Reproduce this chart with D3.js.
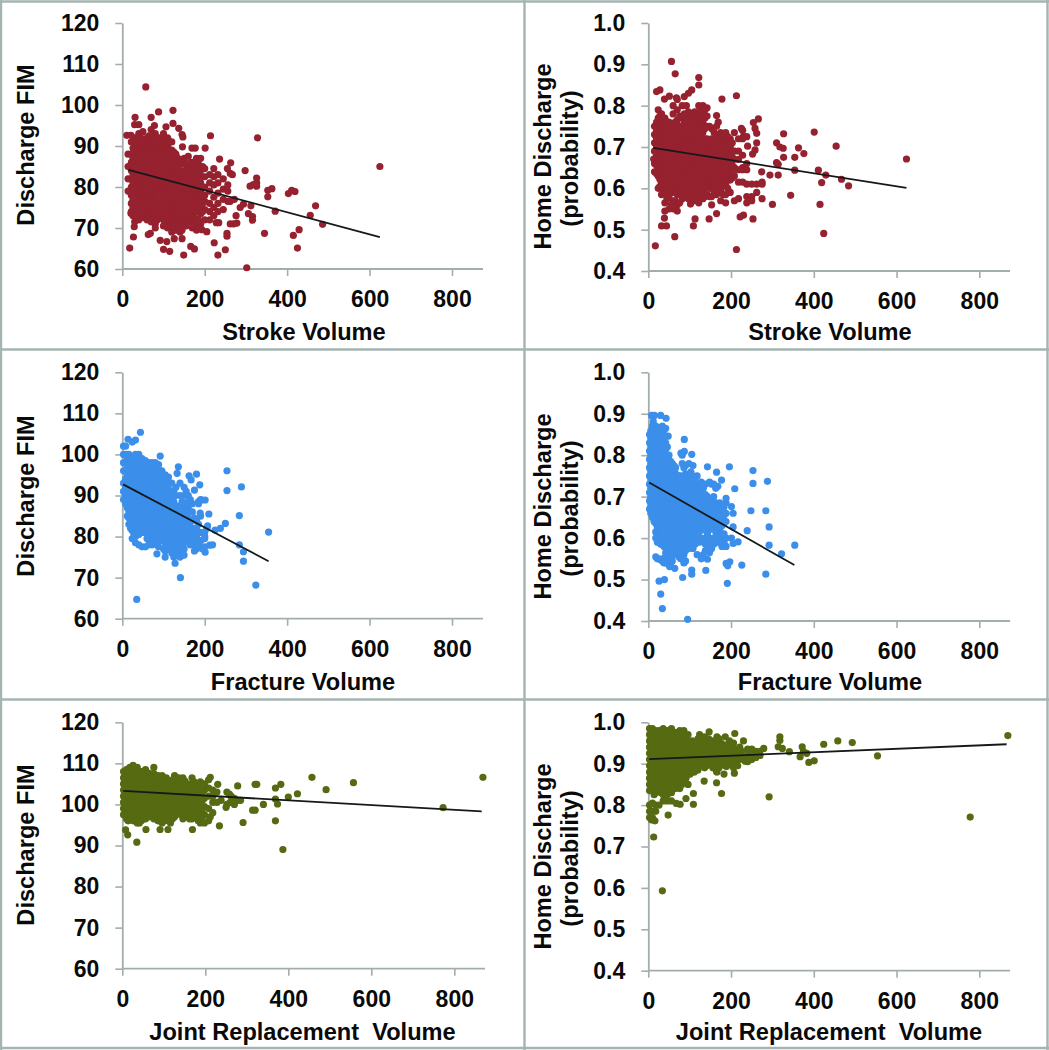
<!DOCTYPE html>
<html><head><meta charset="utf-8">
<script src="https://d3js.org/d3.v7.min.js"></script>
<style>html,body{margin:0;padding:0;background:#fff}svg{display:block}text{font-family:"Liberation Sans",Arial,sans-serif;font-weight:700;fill:#0a0a0a}</style>
</head><body><div id="c"></div>
<script>
// Readings: isolated dots are [x,y]; dense regions are [x,[y,y,...]] columns estimated by eye.
const xTicks=[0,200,400,600,800];
const fimTicks=[60,70,80,90,100,110,120];
const probTicks=[0.4,0.5,0.6,0.7,0.8,0.9,1.0];

const strokeFimDots=[[57,104.4],[31,97],[70,97],[88,98.3],[123,98.7],[123,95.5],[30,95.2],[40,95.2],[78,95],[106,94.7],[137,94.3],[145,92.8],[147,92.2],[11,92.6],[21,92.6],[214,92.5],[328,92],[201,89.5],[169,89.5],[177,89.5],[146,89.8],[236,86.8],[263,85.9],[255,84.5],[262,83.3],[267,83],[298,84],[326,82.2],[326,81],[310,80.2],[326,80.2],[318,80.6],[625,85],[363,79.6],[353,79.2],[353,77.6],[411,79.2],[419,78.9],[403,78.4],[469,75.4],[456,73.1],[486,70.9],[371,74.1],[429,69.6],[415,68.2],[345,68.7],[425,65.1],[302,60.3],[316,72.8],[316,71.9],[306,73.5],[312,75.4],[286,75],[294,75.8],[276,73],[278,71.2],[270,71],[262,71],[254,68.7],[254,68],[250,64.7],[232,63.4],[223,66.4],[228,71.3],[234,71.3],[205,69.1],[193,69.6],[175,64.9],[166,65.5],[149,63.4],[115,64.3],[100,64.8],[92,67],[108,66.7],[126,67.4],[145,67.4],[63,68.4],[68,68.7],[18,65.1],[27,67.8],[29,70.3],[21,73.6],[272,77],[262,76.5]];
const strokeFimCols=[[14,[85,88,82,79]],[22,[91,88,86,84,82,80,78,76,74]],[30,[92,90,88,86.5,85,83,81.5,80,78.5,77,75,73,71.5]],[40,[93,91,89,87.5,86,84,82.5,81,79,77.5,76,74.5,73,72]],[50,[93.5,91.5,90,88,86.5,85,83.5,82,80,78.5,77,75.5,74,72.5]],[60,[92,90.5,89,87,85.5,84,82,80.5,79,77.5,75,73.5,72]],[70,[94,91,89,88,86,84.5,83,81.5,80,78,76,74.5,73,71.5]],[80,[93,90,88.5,87,85,83.5,82,80.5,79,77,75,73,71,70]],[90,[92,90,88.5,87,85.5,84,82.5,81,79.5,78,76,74,72.5]],[100,[93,90.5,89,87,85.5,84,82,80.5,79,77.5,75.5,74,72,70.5]],[110,[92,90,88,86.5,85,83.5,82,80.5,79,77,75,73,71.5,70]],[120,[91,89,87.5,86,84.5,83,81.5,80,78.5,76.5,75,73.5,72,70,69]],[130,[88,86,84.5,83,81.5,80,78.5,77,75.5,74,72.5,71,69.5]],[140,[85.5,84,82.5,81,79.5,78,76.5,75,73.5,72,70.5,69]],[150,[87,84,82,80.5,79,77.5,76,74,72.5,71]],[160,[87.5,85,83,81,79.5,78,76,74.5,73,71.5]],[170,[86,84,82,80,78.5,77,75,73,71.5,70]],[180,[87,84.5,82,80.5,79,77.5,75.5,74,72,69.5]],[190,[87,84,81,79,77,75,73.5,71]],[200,[84.5,82.5,80,78,76.5,74.5,72]],[212,[83,81,79,76,74,72]],[222,[84.5,82.5,80.5,77.5,75,73]],[232,[83,81,78.5,76,74]],[245,[82,79.5,77,74.5]],[256,[80.5,79,76.5]],
[26,[89.5,87,85,83,81,79,77,75,73]],[35,[91,89,87,85.5,83.5,82,80,78,76,74.5,73]],[45,[92,90,88,86.5,85,83,81.5,80,78,76.5,75,73]],[55,[91,89,87.5,86,84,82.5,81,79,78,76,74.5,73]],[65,[92.5,90,88,86.5,85,83,81.5,80,78.5,76.5,75,73]],[75,[92,90,88.5,87,85.5,83.5,82,80.5,79,77,75,73,72]],[85,[91,89.5,87.5,86,84.5,83,81,79.5,78,76,74,72]],[95,[91.5,89.5,88,86.5,84.5,83,81.5,80,78.5,76.5,75,73]],[105,[91.5,89.5,88,86,84.5,83,81,79.5,78,76,74.5,73,71]],[115,[91,89,87,85.5,84,82.5,81,79.5,78,76,74,72,70.5]],[125,[88.5,86.5,85,83.5,82,80.5,79,77.5,75.5,74,72,70.5]],[135,[87,85,83.5,82,80.5,79,77.5,76,74.5,73,71,70]],[145,[86,83,81.5,80,78.5,77,75.5,74,72.5,71,69.5]],[155,[85.5,83,81.5,80,78,76.5,75,73.5,72,70.5]],[165,[86,84,82,80.5,79,77,75.5,73.5,72]],[175,[85,83,81.5,79.5,78,76,74.5,72.5,70.5]],[185,[85.5,83,80,78,76,74,72,70]],[195,[85,82.5,80,78,76,74]]];
const strokeFimLine=[[15,84.2],[625,67.8]];

const strokeProbDots=[[56,.907],[65,.877],[122,.868],[122,.85],[105,.838],[97,.83],[87,.822],[28,.838],[20,.834],[51,.823],[39,.816],[68,.819],[178,.816],[213,.824],[266,.768],[254,.759],[258,.745],[262,.733],[327,.732],[401,.736],[454,.702],[624,.671],[363,.698],[376,.684],[354,.675],[327,.675],[310,.71],[318,.70],[326,.697],[310,.662],[314,.658],[354,.644],[411,.644],[429,.632],[467,.622],[419,.614],[484,.606],[344,.583],[415,.561],[424,.491],[314,.632],[294,.632],[274,.64],[300,.561],[275,.575],[253,.526],[230,.535],[222,.531],[213,.452],[165,.539],[147,.526],[113,.526],[109,.509],[64,.483],[17,.461],[32,.509],[44,.509],[39,.528],[13,.671],[165,.776],[169,.76],[225,.745],[230,.725],[238,.725],[262,.71],[258,.693],[252,.683],[240,.702]];
const strokeProbCols=[[15,[.75,.73,.71,.69,.66,.64]],[24,[.79,.77,.75,.735,.72,.705,.69,.675,.66,.645,.63,.60]],[32,[.78,.765,.75,.735,.72,.705,.69,.675,.66,.645,.63,.615,.60,.585]],[40,[.77,.755,.74,.725,.71,.695,.68,.665,.65,.635,.62,.605,.59,.565,.545]],[50,[.76,.745,.73,.715,.70,.685,.67,.655,.64,.625,.61,.595,.58,.55]],[60,[.80,.78,.75,.735,.72,.705,.69,.675,.66,.645,.63,.615,.60,.57,.55]],[70,[.815,.79,.765,.74,.725,.71,.695,.68,.665,.65,.635,.62,.60,.585,.56,.545]],[82,[.80,.77,.75,.735,.72,.705,.69,.675,.66,.645,.63,.615,.60,.575]],[92,[.80,.775,.755,.74,.725,.71,.695,.68,.665,.65,.635,.62,.60,.58]],[102,[.78,.76,.74,.725,.71,.695,.68,.665,.65,.635,.62,.605,.585,.562]],[112,[.785,.765,.745,.73,.715,.70,.685,.67,.655,.64,.625,.61,.59,.57]],[122,[.80,.78,.76,.74,.72,.705,.69,.675,.66,.645,.63,.615,.60,.58,.565]],[132,[.80,.785,.76,.735,.715,.70,.685,.67,.655,.64,.625,.61,.595,.575]],[142,[.795,.775,.75,.72,.70,.685,.67,.655,.64,.625,.605,.585]],[153,[.745,.72,.705,.69,.675,.66,.645,.63,.615,.60,.58,.56]],[165,[.75,.73,.715,.70,.68,.665,.65,.635,.62,.60,.585]],[175,[.735,.715,.695,.68,.665,.65,.635,.615,.595,.57]],[187,[.735,.71,.69,.675,.66,.645,.63,.61,.585,.565]],[198,[.72,.70,.68,.665,.65,.635,.62,.59]],[208,[.735,.69,.67,.65,.63,.57]],[218,[.72,.69,.67,.645,.615,.575]],[228,[.74,.72,.68,.65,.645,.615]],[238,[.66,.645,.61,.565,.58]],[250,[.61,.58,.57]],[262,[.61,.59]],[275,[.615,.61]],
[20,[.76,.74,.72,.70,.68,.655,.635]],[28,[.775,.757,.742,.727,.712,.697,.682,.667,.652,.637,.622,.605]],[36,[.77,.757,.742,.727,.712,.697,.682,.667,.652,.637,.622,.605,.59]],[45,[.76,.747,.732,.717,.702,.687,.672,.657,.642,.627,.612,.60,.575]],[55,[.755,.742,.727,.712,.697,.682,.667,.652,.637,.622,.607,.59,.56]],[65,[.76,.742,.727,.712,.697,.682,.667,.652,.637,.622,.607,.59,.57]],[76,[.775,.75,.732,.717,.702,.687,.672,.657,.642,.627,.61,.59,.565]],[87,[.78,.757,.742,.727,.712,.697,.682,.667,.652,.637,.622,.605,.585]],[97,[.785,.765,.747,.732,.717,.702,.687,.672,.657,.642,.627,.61,.59,.575]],[107,[.77,.75,.732,.717,.702,.687,.672,.657,.642,.627,.612,.595,.575]],[117,[.775,.755,.737,.722,.707,.692,.677,.662,.647,.632,.617,.60,.58]],[127,[.79,.77,.75,.73,.712,.697,.682,.667,.652,.637,.622,.605,.585]],[137,[.79,.77,.745,.72,.707,.692,.677,.662,.647,.632,.617,.60,.58]],[148,[.75,.71,.695,.68,.665,.65,.635,.62,.60,.58]],[159,[.735,.71,.695,.68,.665,.65,.635,.62,.605,.59]],[170,[.72,.705,.69,.672,.657,.642,.627,.61,.59]],[181,[.725,.705,.685,.67,.655,.64,.625,.605,.585]],[192,[.725,.70,.685,.665,.65,.635,.62,.60]],[203,[.71,.69,.675,.655,.64,.625]]];
const strokeProbLine=[[12,.698],[624,.601]];

const fractureFimDots=[[44,105.4],[92,99.6],[32,103.5],[24,103],[14,103.7],[136,97],[133,95.4],[180,95.2],[162,94.8],[167,93.8],[188,92.6],[175,91.3],[254,96],[254,91.2],[289,92.1],[284,85.1],[210,85.5],[250,83.2],[238,82],[225,81.6],[355,81.1],[284,78],[294,76.3],[294,74],[324,68.2],[219,78],[201,76.2],[141,70],[35,64.7],[128,73.5],[84,75.8],[145,75.5],[205,82],[207,82.6],[193,88.9],[201,88.9],[185,88.5],[189,85.7],[200,80],[212,77.9],[195,77]];
const fractureFimCols=[[3,[102,100,98,96,93,91,89]],[8,[102,100,98,96,94,92,90,88]],[16,[100,98,96.5,95,93.5,92,90.5,89,87.5,86,84.5,83]],[24,[99.5,98,96.5,95,93.5,92,90.5,89,87.5,86,84.5,83,81.5,79.5]],[32,[100,98.5,97,95.5,94,92.5,91,89.5,88,86.5,85,83.5,82,80,78.5]],[40,[100,98.5,97,95.5,94,92.5,91,89.5,88,86.5,85,83.5,82,80.5,78]],[48,[99,97.5,96,94.5,93,91.5,90,88.5,87,85.5,84,82.5,81,77.5]],[56,[98.5,97,95.5,94,92.5,91,89.5,88,86.5,85,83.5,82,81,77.5]],[64,[98,96.5,95,93.5,92,90.5,89,87.5,86,84.5,83,81.5,79.5,78]],[72,[98,96,94.5,93,91.5,90,88.5,87,85.5,84,82.5,81,79.5,78]],[80,[98,96,94.5,93,91.5,90,88.5,87,85.5,84,82.5,81,79.5]],[88,[97.5,95.5,94,92.5,91,89.5,88,86.5,85,83.5,82,80.5,79,77.5]],[96,[96,94,92.5,91,89.5,88,86.5,85,83.5,82,80.5,79]],[104,[95,93.5,92,90.5,89,87.5,86,84.5,83,81.5,80,78.5,76.5,75]],[112,[94.5,93,91.5,90,88.5,87,85.5,84,82.5,81,78.5,77]],[120,[93,91,89.5,88,86.5,85,83.5,82,80,78,76]],[130,[92,90,87.5,86,84.5,83,81.5,80,78.5,77,75.5]],[140,[93,90,87.5,85.5,84,82.5,81,79.5,78,76.5,75]],[150,[92,90,87,85,83.5,82,80,78.5,77,75.5]],[160,[90,88.5,87,84.5,83,81.5,79.5]],[170,[88,86,84,82,80.5,79]],[180,[84,82,80,78.5,77]],[190,[89,85,81,79,77.5]],[200,[81,79.5,77.5]],
[12,[99,97,95,93,91,89,87,85]],[20,[99,97.2,95.7,94.2,92.7,91.2,89.7,88.2,86.7,85.2,83.7,82]],[28,[99,97.2,95.7,94.2,92.7,91.2,89.7,88.2,86.7,85.2,83.7,82.2,80.7]],[36,[99.2,97.7,96.2,94.7,93.2,91.7,90.2,88.7,87.2,85.7,84.2,82.7,81]],[44,[99,97.7,96.2,94.7,93.2,91.7,90.2,88.7,87.2,85.7,84.2,82.7,81.2]],[52,[98,96.7,95.2,93.7,92.2,90.7,89.2,87.7,86.2,84.7,83.2,81.7]],[60,[97.7,96.2,94.7,93.2,91.7,90.2,88.7,87.2,85.7,84.2,82.7,81.2,79.5]],[68,[97.2,95.7,94.2,92.7,91.2,89.7,88.2,86.7,85.2,83.7,82.2,80.7]],[76,[97,95.2,93.7,92.2,90.7,89.2,87.7,86.2,84.7,83.2,81.7,80.2,78.7]],[84,[96.5,94.7,93.2,91.7,90.2,88.7,87.2,85.7,84.2,82.7,81.2,79.7,78]],[92,[96,94.2,92.7,91.2,89.7,88.2,86.7,85.2,83.7,82.2,80.7,79.2]],[100,[94.5,92.7,91.2,89.7,88.2,86.7,85.2,83.7,82.2,80.7,79.2,77]],[108,[93.7,92.2,90.7,89.2,87.7,86.2,84.7,83.2,81.7,80,78]],[116,[93,91,89.2,87.7,86.2,84.7,83.2,81.7,79.5,77.5]],[125,[91,88.5,87,85.5,84,82.5,81,79,77,75]],[135,[87,85,83.5,82,80.5,79,77.5,76]],[145,[88.5,86,84,82.5,81,79,77,75.5]],[155,[91,88,86,84,82,80.5,79]],[165,[89,86,83.5,82,80.5,78]],[175,[84.5,82,80,78,76.5]],[185,[88,83,81,78]]];
const fractureFimLine=[[2,92.7],[355,74]];

const fractureProbDots=[[87,.838],[87,.809],[79,.805],[105,.802],[143,.772],[196,.772],[165,.759],[253,.763],[253,.732],[288,.737],[209,.719],[177,.74],[248,.666],[284,.666],[292,.627],[239,.618],[292,.583],[354,.583],[322,.562],[284,.513],[226,.535],[188,.539],[197,.543],[192,.533],[191,.491],[139,.522],[143,.549],[105,.523],[105,.513],[83,.505],[39,.5],[26,.496],[30,.465],[34,.43],[95,.404],[64,.527],[52,.531],[8,.896],[15,.896],[30,.896],[43,.889],[12,.881],[6,.859],[48,.846],[205,.627],[217,.591],[205,.587],[201,.6],[201,.676],[205,.66],[188,.696]];
const fractureProbCols=[[3,[.85,.83,.81,.79,.77,.75,.73,.71,.69,.67]],[10,[.87,.85,.83,.815,.80,.785,.77,.755,.74,.725,.71,.695,.68,.665,.65]],[18,[.87,.85,.83,.815,.80,.785,.77,.755,.74,.725,.71,.695,.68,.665,.65,.635,.615,.60,.555]],[26,[.86,.84,.825,.81,.795,.78,.765,.75,.735,.72,.705,.69,.675,.66,.645,.63,.615,.59,.55]],[34,[.87,.85,.835,.82,.805,.79,.775,.76,.745,.73,.715,.70,.685,.67,.655,.64,.625,.60,.585,.545]],[42,[.865,.845,.83,.815,.80,.785,.77,.755,.74,.725,.71,.695,.68,.665,.65,.635,.62,.605,.59,.565,.55,.54]],[50,[.80,.785,.77,.755,.74,.725,.71,.695,.68,.665,.65,.635,.62,.605,.59,.57,.555,.535]],[58,[.78,.765,.75,.735,.72,.705,.69,.675,.66,.645,.63,.615,.60,.585,.565,.545]],[66,[.77,.755,.74,.725,.71,.695,.68,.665,.65,.635,.62,.605,.59]],[74,[.75,.735,.72,.705,.69,.675,.66,.645,.63,.615,.60,.585,.57,.555]],[82,[.80,.78,.745,.73,.715,.70,.685,.67,.655,.64,.625,.61,.595,.58,.565,.55]],[90,[.775,.755,.735,.72,.705,.69,.675,.66,.645,.63,.615,.60,.585,.57,.545]],[98,[.78,.745,.725,.71,.695,.68,.665,.65,.635,.62,.605,.59,.575]],[108,[.775,.75,.735,.72,.705,.69,.675,.66,.645,.63,.615,.60,.575]],[118,[.75,.73,.715,.70,.685,.67,.655,.64,.625,.60,.56]],[128,[.735,.71,.695,.68,.665,.65,.635,.62,.60,.55]],[138,[.73,.705,.69,.675,.66,.64,.625,.60,.585,.57]],[148,[.735,.69,.675,.655,.635,.62,.60,.58,.565]],[158,[.73,.70,.68,.665,.645,.625,.60,.585]],[168,[.725,.68,.665,.65,.63,.61,.59]],[178,[.68,.665,.65,.63,.605,.58]],[188,[.685,.66,.64,.60,.58]],
[6,[.84,.82,.80,.78,.76,.74,.72,.70,.68,.66]],[14,[.86,.84,.822,.807,.792,.777,.762,.747,.732,.717,.702,.687,.672,.657,.64]],[22,[.86,.84,.822,.807,.792,.777,.762,.747,.732,.717,.702,.687,.672,.657,.642,.625,.605,.59,.55]],[30,[.85,.832,.817,.802,.787,.772,.757,.742,.727,.712,.697,.682,.667,.652,.637,.62,.60,.585,.548]],[38,[.86,.842,.827,.812,.797,.782,.767,.752,.737,.722,.707,.692,.677,.662,.647,.632,.617,.597,.58,.552,.54]],[46,[.82,.80,.777,.762,.747,.732,.717,.702,.687,.672,.657,.642,.627,.612,.597,.582,.56,.545]],[54,[.785,.77,.755,.74,.725,.71,.695,.68,.665,.65,.635,.62,.605,.59,.575,.55,.54]],[62,[.775,.76,.745,.73,.715,.70,.685,.67,.655,.64,.625,.61,.595,.58,.56]],[70,[.75,.735,.72,.705,.69,.675,.66,.645,.63,.615,.60,.585,.57]],[78,[.75,.73,.715,.70,.685,.67,.655,.64,.625,.61,.595,.58,.565,.55]],[86,[.77,.74,.725,.71,.695,.68,.665,.65,.635,.62,.605,.59,.575,.56,.54]],[94,[.745,.73,.715,.70,.685,.67,.655,.64,.625,.61,.595,.58]],[103,[.76,.735,.72,.705,.69,.675,.66,.645,.63,.615,.60,.585]],[113,[.745,.725,.71,.695,.68,.665,.65,.635,.62,.605,.585]],[123,[.72,.705,.69,.675,.66,.645,.63,.615,.59]],[133,[.72,.70,.685,.67,.655,.64,.62,.595,.56]],[143,[.70,.68,.665,.645,.63,.61,.59,.575]],[153,[.73,.685,.665,.645,.625,.59,.575]],[163,[.72,.685,.67,.65,.635,.615,.59]],[173,[.685,.67,.64,.62,.595]],[183,[.675,.655,.635,.61,.59]]];
const fractureProbLine=[[2,.734],[353,.535]];

const jointFimDots=[[869,106.6],[773,99.2],[557,105.3],[491,103.6],[457,106.6],[422,102.6],[400,101.8],[382,104.9],[369,104],[369,101.3],[374,100.1],[340,100],[320,104.9],[324,104.9],[314,98.6],[320,98.6],[278,104.5],[291,95.6],[369,96],[387,89],[234,94.8],[35,90.8],[13,92.6],[8,93.8],[57,93.9],[91,93.9],[110,93.9],[169,93.9],[212,106.6],[208,106],[230,104.9],[212,97],[252,103],[258,102.5],[262,102],[270,101.5],[278,101],[285,101],[252,100],[260,100.5],[270,100],[250,99.3],[238,101]];
const jointFimCols=[[3,[108,106.5,105,103.5,102,100.5,99,97.5]],[10,[108.5,107,105.5,104,102.5,101,99.5,98,96.5]],[18,[109,107.5,106,104.5,103,101.5,100,98.5,97]],[26,[109.5,108,106.5,105,103.5,102,100.5,99,97.5,96]],[36,[109,107.5,106,104.5,103,101.5,100,98.5,97,95.5]],[46,[108,106.5,105,103.5,102,100.5,99,97.5,96]],[56,[108.5,107,105.5,104,102.5,101,99.5,98,96.5]],[66,[107.5,106,104.5,103,101.5,100,98.5,97]],[76,[109,107.5,106,104.5,103,101.5,100,98,96.5]],[86,[107,105.5,104,102.5,101,99.5,98,96]],[96,[107,105.5,104,102.5,101,99.5,97.5,95.5]],[106,[106.5,105,103.5,102,100.5,98.5,96.5]],[116,[105.5,104,102.5,101,99.5,97,95.5]],[126,[107,105.5,104,102.5,101,99,97]],[136,[106.5,105,103.5,102,100.5,99]],[146,[106.5,105,103.5,102,100.5,98.5,96.5]],[156,[105,103.5,102,100.5,99,97]],[168,[106.5,105,103.5,102,100.5,98.5,96.5]],[178,[104.5,102.5,101,99.5,97]],[188,[105.5,104,102.5,100.5,98.5,95.5]],[198,[105,103.5,101.5,99.5,97.5,95.5]],[208,[104,102,99,96]],[218,[103.5,102,100.5,98]],[228,[103,100.5]],
[7,[107.5,106,104.5,103,101.5,100,98.5]],[14,[108,106.5,105,103.5,102,100.5,99,97.5,96]],[22,[108.5,106.7,105.2,103.7,102.2,100.7,99.2,97.7,96.5]],[31,[108.5,106.7,105.2,103.7,102.2,100.7,99.2,97.7,96]],[41,[108,106.5,105,103.5,102,100.5,99,97.5,95.5]],[51,[107.5,106,104.5,103,101.5,100,98.5,97]],[61,[107.7,106.2,104.7,103.2,101.7,100.2,98.7,97]],[71,[106.7,105.2,103.7,102.2,100.7,99.2,97.7]],[81,[106.7,105.2,103.7,102.2,100.7,99.2,97]],[91,[106,104.5,103,101.5,100,98.5,96.7]],[101,[105.7,104.2,102.7,101.2,99.7,98,96]],[111,[105,103.5,102,100.5,99,97.5,96]],[121,[106,104.5,103,101.5,100,98.5,96.5]],[131,[106,104.5,103,101.5,100,98.2]],[141,[105.5,104,102.5,101,99.5,97.5]],[151,[105.7,104.2,102.7,101.2,99.7,98]],[162,[104.5,103,101.5,100,98,96.5]],[173,[105.5,104,102.5,101,99.5,97.5]],[183,[103.5,101.7,100,98,96]],[193,[104.5,103,101,99,97]]];
const jointFimLine=[[2,103.3],[866,98.3]];

const jointProbDots=[[869,.968],[554,.919],[778,.771],[493,.951],[458,.955],[424,.947],[401,.907],[388,.903],[372,.941],[367,.917],[375,.929],[383,.925],[341,.929],[318,.965],[318,.956],[314,.941],[324,.937],[292,.82],[279,.937],[234,.906],[230,.955],[209,.973],[177,.828],[165,.854],[135,.858],[147,.977],[109,.828],[109,.802],[91,.816],[77,.802],[68,.804],[56,.81],[48,.776],[13,.723],[34,.593],[8,.764],[16,.762],[208,.877],[183,.875],[165,.881],[189,.893],[209,.897]];
const jointProbCols=[[3,[.985,.97,.955,.94,.925,.91,.895,.88,.865,.85,.835,.80,.785,.77]],[10,[.985,.97,.955,.94,.925,.91,.895,.88,.865,.85,.835,.805,.785,.77]],[18,[.98,.965,.95,.935,.92,.905,.89,.875,.86,.845,.83,.80,.785]],[26,[.98,.965,.95,.935,.92,.905,.89,.875,.86,.845,.80]],[36,[.985,.97,.955,.94,.925,.91,.895,.88,.865,.84,.825,.81]],[46,[.98,.965,.95,.935,.92,.905,.89,.875,.86,.84,.825,.81]],[56,[.985,.97,.955,.94,.925,.91,.895,.88,.865,.85,.83]],[66,[.975,.96,.945,.93,.915,.90,.885,.87,.855,.84]],[76,[.98,.965,.95,.935,.92,.905,.89,.875,.86,.84]],[86,[.98,.965,.95,.935,.92,.905,.89,.875,.855]],[96,[.97,.955,.94,.925,.91,.895,.875,.85]],[106,[.955,.94,.925,.91,.895,.88]],[116,[.945,.93,.915,.90,.885]],[124,[.97,.955,.94,.925,.91,.895]],[136,[.965,.95,.935,.92,.905,.89]],[146,[.96,.945,.93,.915,.90]],[156,[.955,.94,.925,.91,.89]],[166,[.965,.95,.935,.92,.90,.88]],[176,[.95,.935,.92,.90]],[186,[.965,.945,.93,.915,.895]],[196,[.955,.94,.92,.90]],[206,[.95,.935,.915,.89]],[216,[.935,.92,.895]],[226,[.93,.915]],[240,[.935,.92,.905]],[250,[.935,.92,.91]],[260,[.93,.915]],[270,[.93,.92]],
[7,[.975,.96,.945,.93,.915,.90,.885,.87,.855,.84]],[14,[.975,.96,.947,.932,.917,.902,.887,.872,.857,.842,.825]],[22,[.972,.957,.942,.927,.912,.897,.882,.867,.852,.837]],[31,[.975,.96,.945,.93,.915,.90,.885,.87,.855,.83]],[41,[.972,.957,.942,.927,.912,.897,.882,.867,.85,.83]],[51,[.975,.96,.945,.93,.915,.90,.885,.87,.855,.835]],[61,[.975,.96,.945,.93,.915,.90,.885,.87,.85]],[71,[.97,.955,.94,.925,.91,.895,.88,.865,.85]],[81,[.972,.957,.942,.927,.912,.897,.882,.867,.85]],[91,[.96,.945,.93,.915,.90,.885,.865]],[101,[.95,.935,.92,.905,.89,.875]],[111,[.94,.925,.91,.895,.88]],[120,[.96,.945,.93,.915,.90,.885]],[130,[.955,.94,.925,.91,.895]],[141,[.95,.935,.92,.905,.895]],[151,[.95,.935,.92,.90]],[161,[.945,.93,.915,.90]],[171,[.96,.94,.925,.91,.89]],[181,[.94,.925,.905]],[191,[.945,.925,.905]],[201,[.945,.925,.905]],[211,[.925,.905]],[221,[.94,.925,.91]]];
const jointProbLine=[[2,.911],[866,.947]];

const RED="#96212f",BLUE="#3b8fea",GREEN="#566a12";
const FIM="Discharge FIM",PROB=["Home Discharge","(probability)"];
const panels=[
 {dots:strokeFimDots,cols:strokeFimCols,line:strokeFimLine,c:RED,xl:"Stroke Volume",yl:[FIM],prob:false,x0:122.3,x8:452,xe:483,yT:23,yB:269,xlc:304,xlb:340,ylx:[34],ylc:[145]},
 {dots:strokeProbDots,cols:strokeProbCols,line:strokeProbLine,c:RED,xl:"Stroke Volume",yl:PROB,prob:true,x0:648.3,x8:979.3,xe:1010,yT:23,yB:271,xlc:830,xlb:340,ylx:[551,578],ylc:[156.5,158.5]},
 {dots:fractureFimDots,cols:fractureFimCols,line:fractureFimLine,c:BLUE,xl:"Fracture Volume",yl:[FIM],prob:false,x0:122.3,x8:452,xe:483,yT:372.3,yB:618.7,xlc:303,xlb:690,ylx:[34],ylc:[496]},
 {dots:fractureProbDots,cols:fractureProbCols,line:fractureProbLine,c:BLUE,xl:"Fracture Volume",yl:PROB,prob:true,x0:648.3,x8:979.3,xe:1010,yT:372.3,yB:621,xlc:830,xlb:690,ylx:[551,578],ylc:[506.5,508.5]},
 {dots:jointFimDots,cols:jointFimCols,line:jointFimLine,c:GREEN,xl:"Joint Replacement  Volume",yl:[FIM],prob:false,x0:122.3,x8:454.3,xe:485,yT:722.3,yB:968.7,xlc:302.5,xlb:1040,ylx:[34],ylc:[845]},
 {dots:jointProbDots,cols:jointProbCols,line:jointProbLine,c:GREEN,xl:"Joint Replacement  Volume",yl:PROB,prob:true,x0:648.3,x8:979.3,xe:1010,yT:722.3,yB:970.7,xlc:829,xlb:1040,ylx:[551,578],ylc:[856.5,858.5]}
];
const frameX=[1,524.5,1047.5],frameY=[1.5,349.5,699.5,1048];
const AX="#a3aeac",TICK_FONT="23px",TITLE_FONT="23.6px";
const svg=d3.select("#c").append("svg").attr("width",1049).attr("height",1050);
svg.selectAll("line.fv").data(frameX).join("line").attr("class","fv").attr("x1",d=>d).attr("x2",d=>d).attr("y1",0).attr("y2",1050).attr("stroke","#a4b4b2").attr("stroke-width",2.4);
svg.selectAll("line.fh").data(frameY).join("line").attr("class","fh").attr("y1",d=>d).attr("y2",d=>d).attr("x1",0).attr("x2",1049).attr("stroke","#a4b4b2").attr("stroke-width",2.4);

panels.forEach(p=>{
 const x=d3.scaleLinear().domain([0,800]).range([p.x0,p.x8]);
 const y=d3.scaleLinear().domain(p.prob?[0.4,1]:[60,120]).range([p.yB,p.yT]);
 const g=svg.append("g");
 const ax=d3.axisBottom(x).tickValues(xTicks).tickSize(7).tickSizeOuter(0).tickPadding(15).tickFormat(d3.format("d"));
 const ay=d3.axisLeft(y).tickValues(p.prob?probTicks:fimTicks).tickSize(7).tickSizeOuter(0).tickPadding(16).tickFormat(p.prob?d3.format(".1f"):d3.format("d"));
 const gx=g.append("g").attr("transform",`translate(0,${p.yB})`).call(ax);
 const gy=g.append("g").attr("transform",`translate(${p.x0},0)`).call(ay);
 gx.select(".domain").attr("d",`M${p.x0},0H${p.xe}`);
 [gx,gy].forEach(a=>{a.selectAll(".domain").attr("stroke",AX).attr("stroke-width",1.8);a.selectAll(".tick line").attr("stroke",AX).attr("stroke-width",1.6);a.selectAll("text").style("font-size",TICK_FONT).attr("fill","#0a0a0a");});
 const pts=p.dots.concat(p.cols.flatMap(([cx,ys])=>ys.map(v=>[cx,v])));
 g.append("g").selectAll("circle").data(pts).join("circle").attr("cx",d=>x(d[0])).attr("cy",d=>y(d[1])).attr("r",3.6).attr("fill",p.c);
 g.append("path").datum(p.line).attr("d",d3.line().x(d=>x(d[0])).y(d=>y(d[1]))).attr("stroke","#15191a").attr("stroke-width",1.8).attr("fill","none");
 g.append("text").attr("x",p.xlc).attr("y",p.xlb).attr("text-anchor","middle").style("font-size",TITLE_FONT).style("white-space","pre").text(p.xl);
 p.yl.forEach((t,i)=>{
  g.append("text").attr("transform",`translate(${p.ylx[i]},${p.ylc[i]}) rotate(-90)`).attr("text-anchor","middle").style("font-size",TITLE_FONT).text(t);
 });
});
</script></body></html>
